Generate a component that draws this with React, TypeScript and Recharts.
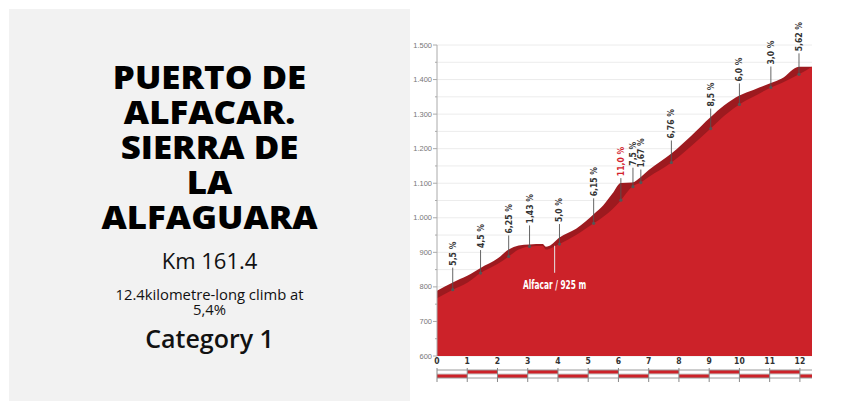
import React from 'react';
import {
  ComposedChart,
  Area,
  XAxis,
  YAxis,
  CartesianGrid,
  Scatter,
  ReferenceDot,
  ReferenceArea,
  ReferenceLine,
} from 'recharts';

// ---- Profile data (km, elevation of top edge, elevation of surface edge) ----
const profileKm = [0, 0.52, 1.0, 1.44, 2.0, 2.37, 2.7, 3.06, 3.5, 3.6, 3.7, 4.05, 4.6, 5.18, 5.5, 5.8, 6.08, 6.45, 6.74, 7.0, 7.75, 8.4, 9.05, 9.5, 10.0, 10.46, 11.04, 11.4, 11.97, 12.4];
const topElev = [789, 813, 832, 855, 882, 908, 920, 923, 924, 916, 918, 943, 968, 1010, 1036, 1070, 1101, 1102, 1118, 1138, 1186, 1237, 1292, 1326, 1354, 1370, 1390, 1403, 1437, 1437];
const baseElev = [767, 792, 812, 840, 866, 888, 908, 917, 918, 908, 910, 924, 950, 984, 1003, 1025, 1051, 1090, 1102, 1118, 1160, 1207, 1258, 1295, 1328, 1350, 1377, 1390, 1415, 1437];

// ---- Gradient markers ----
const markerKm = [0.52, 1.44, 2.37, 3.06, 4.05, 5.18, 6.08, 6.48, 6.74, 7.75, 9.05, 10.0, 11.04, 11.97];
const markerElev = [792, 840, 888, 917, 924, 984, 1051, 1090, 1102, 1160, 1258, 1328, 1377, 1415];
const markerLabels = ['5,5 %', '4,5 %', '6,25 %', '1,43 %', '5,0 %', '6,15 %', '11,0 %', '7,5 %', '1,67 %', '6,76 %', '8,5 %', '6,0 %', '3,0 %', '5,62 %'];
const markerSteep = [false, false, false, false, false, false, true, false, false, false, false, false, false, false];
// leader-line lengths in px (style)
const markerLeader = [22, 23, 21, 21, 20, 25, 22, 19, 13, 22, 20, 21, 21, 21];

// ---- Town ----
const townKm = 3.89;
const townElev = 919;
const townLabel = 'Alfacar / 925 m';

// ---- Axes ----
const kmTicks = [0, 1, 2, 3, 4, 5, 6, 7, 8, 9, 10, 11, 12];
const kmEnd = 12.4;
const elevTicks = [600, 650, 700, 750, 800, 850, 900, 950, 1000, 1050, 1100, 1150, 1200, 1250, 1300, 1350, 1400, 1450, 1500];

// ---- Text ----
const titleLines = ['PUERTO DE', 'ALFACAR.', 'SIERRA DE', 'LA', 'ALFAGUARA'];
const kmText = 'Km 161.4';
const climbLines = ['12.4kilometre-long climb at', '5,4%'];
const categoryText = 'Category 1';

const RED = '#cc2229';
const DARK = '#9d1a1f';
const NARROW = "'Liberation Sans Narrow', 'DejaVu Sans Condensed', 'Roboto', sans-serif";

const profileData = profileKm.map((km, i) => ({ km, top: topElev[i], base: baseElev[i] }));
const markerData = markerKm.map((km, i) => ({ km, elev: markerElev[i], label: markerLabels[i], steep: markerSteep[i], leader: markerLeader[i] }));
const stripData = kmTicks.map((km) => ({ km, row: 1 }));

const fmtElev = (v: number) => {
  if (v >= 1000) {
    const s = String(v);
    return s.slice(0, s.length - 3) + '.' + s.slice(s.length - 3);
  }
  return String(v);
};

const YTick = (props: any) => {
  const { x, y, payload } = props;
  const v = payload.value as number;
  const major = v % 100 === 0;
  return (
    <g>
      <line x1={x - (major ? 4 : 2)} x2={x} y1={y} y2={y} stroke="#aaa" strokeWidth={1} />
      {major && (
        <text x={x - 5} y={y} dy={2.6} textAnchor="end" fontSize={7.5} fill="#777" fontFamily="'Liberation Sans', Arial, sans-serif">
          {fmtElev(v)}
        </text>
      )}
    </g>
  );
};

const XTick = (props: any) => {
  const { x, y, payload } = props;
  return (
    <text x={x} y={y} dy={8} textAnchor="middle" fontSize={8.5} fontWeight="bold" fill="#333" fontFamily={NARROW}>
      {payload.value}
    </text>
  );
};

const MarkerShape = (props: any) => {
  const { cx, cy, payload } = props;
  if (cx == null || cy == null) return null;
  const len = payload.leader;
  return (
    <g>
      <line x1={cx} x2={cx} y1={cy} y2={cy - len} stroke="#555" strokeWidth={0.9} />
      <circle cx={cx} cy={cy} r={1.6} fill="#555" />
      <text
        transform={`translate(${cx},${cy - len - 2}) rotate(-90) scale(0.95,0.95)`}
        textAnchor="start"
        dominantBaseline="central"
        fontSize={9}
        fontWeight="bold"
        fill={payload.steep ? '#d3222c' : '#333'}
        fontFamily={NARROW}
      >
        {payload.label}
      </text>
    </g>
  );
};

const TownShape = (props: any) => {
  const { cx, cy } = props;
  if (cx == null || cy == null) return null;
  return (
    <g>
      <line x1={cx} x2={cx} y1={cy} y2={cy + 27} stroke="#e6e6e6" strokeWidth={1} />
      <text
        transform={`translate(${cx},${cy + 39}) scale(0.75,1.05)`}
        dy={3.8}
        textAnchor="middle"
        fontSize={11}
        fontWeight="bold"
        fill="#fff"
        fontFamily={NARROW}
      >
        {townLabel}
      </text>
    </g>
  );
};

export default function App() {
  return (
    <div style={{ position: 'absolute', left: 0, top: 0, width: 857, height: 410, background: '#fff', overflow: 'hidden' }}>
      {/* Left info panel */}
      <div
        style={{
          position: 'absolute',
          left: 9,
          top: 9,
          width: 401,
          height: 392,
          background: '#f2f2f2',
        }}
      />
      <div
        style={{
          position: 'absolute',
          left: 9,
          top: 59,
          width: 401,
          textAlign: 'center',
          fontFamily: "'Open Sans', sans-serif",
          fontWeight: 800,
          fontSize: 32,
          lineHeight: '35px',
          color: '#000',
          whiteSpace: 'nowrap',
          transform: 'scaleX(1.09)',
          transformOrigin: '200px 0',
        }}
      >
        {titleLines.map((l, i) => (
          <div key={i}>{l}</div>
        ))}
      </div>
      <div
        style={{
          position: 'absolute',
          left: 9,
          top: 246,
          width: 401,
          textAlign: 'center',
          fontFamily: "'Open Sans', sans-serif",
          fontSize: 22,
          lineHeight: '28px',
          color: '#111',
        }}
      >
        {kmText}
      </div>
      <div
        style={{
          position: 'absolute',
          left: 9,
          top: 287,
          width: 401,
          textAlign: 'center',
          fontFamily: "'Open Sans', sans-serif",
          fontSize: 14.8,
          lineHeight: '15px',
          color: '#111',
        }}
      >
        {climbLines.map((l, i) => (
          <div key={i}>{l}</div>
        ))}
      </div>
      <div
        style={{
          position: 'absolute',
          left: 9,
          top: 323,
          width: 401,
          textAlign: 'center',
          fontFamily: "'Open Sans', sans-serif",
          fontWeight: 600,
          fontSize: 25,
          lineHeight: '30px',
          color: '#111',
        }}
      >
        {categoryText}
      </div>

      {/* Profile chart */}
      <div style={{ position: 'absolute', left: 0, top: 0 }}>
        <ComposedChart width={857} height={410} data={profileData} margin={{ top: 45, right: 45, bottom: 0, left: 0 }}>
          <CartesianGrid horizontal vertical={false} stroke="#ececec" strokeWidth={1} />
          <XAxis
            type="number"
            dataKey="km"
            domain={[0, kmEnd]}
            ticks={kmTicks}
            height={54}
            tickLine={false}
            axisLine={false}
            tickSize={0}
            tickMargin={0}
            tick={<XTick />}
            interval={0}
          />
          <YAxis
            type="number"
            domain={[600, 1500]}
            ticks={elevTicks}
            width={437}
            tickLine={false}
            tickSize={0}
            tickMargin={0}
            axisLine={{ stroke: '#aaa', strokeWidth: 1 }}
            tick={<YTick />}
            interval={0}
          />
          <Area type="monotone" dataKey="top" stroke="none" fill={DARK} fillOpacity={1} baseValue="dataMin" isAnimationActive={false} dot={false} activeDot={false} />
          <Area type="monotone" dataKey="base" stroke="none" fill={RED} fillOpacity={1} baseValue="dataMin" isAnimationActive={false} dot={false} activeDot={false} />
          <ReferenceDot x={townKm} y={townElev} r={0} shape={<TownShape />} ifOverflow="visible" />
          <Scatter data={markerData} dataKey="elev" shape={<MarkerShape />} isAnimationActive={false} />
        </ComposedChart>
      </div>

      {/* Kilometre strip */}
      <div style={{ position: 'absolute', left: 0, top: 368 }}>
        <ComposedChart width={857} height={14} data={stripData} margin={{ top: 0, right: 45, bottom: 0, left: 437 }}>
          <XAxis type="number" dataKey="km" domain={[0, kmEnd]} hide allowDataOverflow />
          <YAxis type="number" dataKey="row" domain={[-1, 2.5]} hide allowDataOverflow />
          {kmTicks.map((k) => (
            <ReferenceArea
              key={'a' + k}
              x1={k}
              x2={Math.min(k + 1, kmEnd)}
              y1={k % 2 === 0 ? 0 : 1}
              y2={k % 2 === 0 ? 1 : 2}
              fill={RED}
              fillOpacity={1}
              stroke="none"
              ifOverflow="visible"
            />
          ))}
          <ReferenceLine y={2} stroke="#9a9a9a" strokeWidth={1} ifOverflow="visible" />
          <ReferenceLine y={1} stroke="#c8c8c8" strokeWidth={1} ifOverflow="visible" />
          <ReferenceLine y={0} stroke="#9a9a9a" strokeWidth={1} ifOverflow="visible" />
          {kmTicks.map((k) => (
            <ReferenceLine key={'v' + k} x={k} stroke="#888" strokeWidth={1} ifOverflow="visible" />
          ))}
        </ComposedChart>
      </div>
    </div>
  );
}
